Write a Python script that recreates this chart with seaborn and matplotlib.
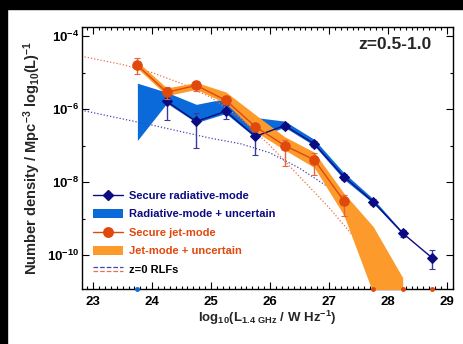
import numpy as np
import matplotlib
matplotlib.use("Agg")
import matplotlib.pyplot as plt
import matplotlib.ticker as mtick
from matplotlib.lines import Line2D
from matplotlib.patches import Patch, Rectangle
from matplotlib.legend_handler import HandlerBase
import seaborn as sns

# -- Data (log10 number density) -------------------------------
rad_x    = [24.25, 24.75, 25.25, 25.75, 26.25, 26.75, 27.25, 27.75, 28.25, 28.75]
rad_y    = [-5.79, -6.34, -6.06, -6.75, -6.45, -6.95, -7.85, -8.54, -9.40, -10.08]
rad_lo   = [-6.31, -7.06, -6.28, -7.27, -6.55, -7.03, -7.93, -8.62, -9.50, -10.38]
rad_hi   = [-5.65, -6.10, -5.88, -6.55, -6.37, -6.88, -7.78, -8.47, -9.32, -9.87]

rad_band_x  = [23.75, 24.25, 24.75, 25.25, 25.75, 26.25, 26.75, 27.25, 27.75, 28.25]
rad_band_hi = [-5.29, -5.54, -5.87, -5.71, -6.23, -6.33, -6.83, -7.74, -8.46, -9.37]
rad_band_lo = [-6.86, -5.84, -6.37, -6.12, -6.78, -6.50, -7.00, -7.92, -8.58, -9.42]

jet_x    = [23.75, 24.25, 24.75, 25.25, 25.75, 26.25, 26.75, 27.25]
jet_y    = [-4.80, -5.54, -5.35, -5.76, -6.48, -7.00, -7.39, -8.51]
jet_lo   = [-5.05, -5.72, -5.50, -5.87, -6.60, -7.55, -7.80, -8.93]
jet_hi   = [-4.61, -5.40, -5.22, -5.65, -6.38, -6.84, -7.19, -8.35]

jet_band_x  = [23.75, 24.25, 24.75, 25.25, 25.75, 26.25, 26.75, 27.25, 27.75, 28.25]
jet_band_hi = [-4.70, -5.42, -5.27, -5.53, -6.15, -6.76, -7.18, -8.30, -9.22, -10.62]
jet_band_lo = [-4.88, -5.63, -5.46, -5.84, -6.62, -7.12, -7.60, -8.90, -11.05, -11.05]

rlf_rad_x = [22.8, 23.5, 24.0, 24.5, 25.0, 25.5, 26.0, 26.5, 27.0, 27.25, 27.45]
rlf_rad_y = [-6.03, -6.27, -6.44, -6.62, -6.80, -6.95, -7.20, -7.62, -8.15, -8.50, -9.00]
rlf_jet_x = [22.8, 23.5, 24.0, 24.5, 25.0, 25.5, 26.0, 26.5, 27.0, 27.45]
rlf_jet_y = [-4.55, -4.78, -5.00, -5.30, -5.68, -6.25, -7.00, -7.85, -8.70, -9.55]

# empty bins drawn on the lower axis
rad_empty_x = [23.75]
jet_empty_x = [27.75, 28.25, 28.75]

XLIM = (22.81, 29.10)
YLIM = (10 ** -10.93, 10 ** -3.75)

NAVY   = "#0c0c82"
BLUE   = "#0b6ad9"
RED    = "#e0480c"
ORANGE = "#fd9a2c"
RLF_B  = "#4444b4"
RLF_R  = "#ef6e4c"
DOTS   = (0, (1, 1.6))

sns.set_theme(style="ticks")
plt.rcParams["font.family"] = ["Liberation Sans", "DejaVu Sans"]
plt.rcParams["font.weight"] = "bold"
plt.rcParams["mathtext.fontset"] = "custom"
plt.rcParams["mathtext.bf"] = "Liberation Sans:bold"
plt.rcParams["mathtext.rm"] = "Liberation Sans:bold"
plt.rcParams["mathtext.default"] = "bf"

p = lambda v: 10 ** np.asarray(v)

fig = plt.figure(figsize=(4.63, 3.44), dpi=100)
fig.patch.set_facecolor("white")
ax = fig.add_axes([0.177, 0.160, 0.801, 0.7615])

# bands
ax.fill_between(rad_band_x, p(rad_band_lo), p(rad_band_hi),
                color=BLUE, linewidth=0, zorder=2)
ax.fill_between(jet_band_x, p(jet_band_lo), p(jet_band_hi),
                color=ORANGE, linewidth=0, zorder=3)

# z=0 RLFs
sns.lineplot(x=rlf_rad_x, y=p(rlf_rad_y), ax=ax, color=RLF_B,
             linestyle=DOTS, linewidth=0.9, zorder=2.5)
sns.lineplot(x=rlf_jet_x, y=p(rlf_jet_y), ax=ax, color=RLF_R,
             linestyle=DOTS, linewidth=0.9, zorder=2.5)

# secure radiative-mode
ax.errorbar(rad_x, p(rad_y),
            yerr=[p(rad_y) - p(rad_lo), p(rad_hi) - p(rad_y)],
            fmt="none", ecolor="#3a3a9c", elinewidth=1.0, capsize=2,
            capthick=0.8, zorder=4)
sns.lineplot(x=rad_x, y=p(rad_y), ax=ax, color=NAVY, linewidth=1.0,
             marker="D", markersize=5.5, markeredgecolor=NAVY,
             markerfacecolor=NAVY, zorder=5)

# secure jet-mode
ax.errorbar(jet_x, p(jet_y),
            yerr=[p(jet_y) - p(jet_lo), p(jet_hi) - p(jet_y)],
            fmt="none", ecolor="#e8643c", elinewidth=1.0, capsize=2,
            capthick=0.8, zorder=6)
sns.lineplot(x=jet_x, y=p(jet_y), ax=ax, color=RED, linewidth=1.0,
             marker="o", markersize=6.8, markeredgecolor=RED,
             markerfacecolor=RED, zorder=7)

# empty bins on the floor
ax.plot(rad_empty_x, [YLIM[0]] * len(rad_empty_x), "o", color=BLUE,
        markersize=2.5, clip_on=False, zorder=8)
ax.plot(jet_empty_x, [YLIM[0]] * len(jet_empty_x), "o", color=RED,
        markersize=2.5, clip_on=False, zorder=8)

ax.set_yscale("log")
ax.set_xlim(*XLIM)
ax.set_ylim(*YLIM)

ax.xaxis.set_major_locator(mtick.MultipleLocator(1))
ax.xaxis.set_minor_locator(mtick.MultipleLocator(0.1))
ax.yaxis.set_major_locator(mtick.FixedLocator([1e-4, 1e-6, 1e-8, 1e-10]))
ax.yaxis.set_minor_locator(mtick.FixedLocator([1e-5, 1e-7, 1e-9, 1e-11]))
ax.yaxis.set_major_formatter(
    mtick.FuncFormatter(lambda v, _: r"$10^{%d}$" % round(np.log10(v))))
ax.yaxis.set_minor_formatter(mtick.NullFormatter())
ax.xaxis.set_major_formatter(mtick.FuncFormatter(lambda v, _: f"{v:.0f}"))

ax.tick_params(which="both", direction="in", top=True, right=True,
               colors="black", width=0.8, labelsize=9.5)
ax.tick_params(which="major", length=5)
ax.tick_params(which="minor", length=2.5)
ax.tick_params(axis="y", pad=2)
ax.tick_params(axis="x", pad=5)
for s in ax.spines.values():
    s.set_color("black")
    s.set_linewidth(1.0)

ax.set_xlabel(r"log$_{10}$(L$_{1.4\ GHz}$ / W Hz$^{-1}$)",
              fontsize=9.5, fontweight="bold", labelpad=1)
ax.set_ylabel(r"Number density / Mpc$^{-3}$ log$_{10}$(L)$^{-1}$",
              fontsize=10.5, fontweight="bold", labelpad=3)

ax.text(0.943, 0.933, "z=0.5-1.0", transform=ax.transAxes,
        ha="right", va="center", fontsize=12.5, fontweight="bold")


# legend ------------------------------------------------------
class HandlerTwoLines(HandlerBase):
    def create_artists(self, legend, orig_handle, xdescent, ydescent,
                       width, height, fontsize, trans):
        out = []
        for h, frac in zip(orig_handle, (0.72, 0.28)):
            y = height * frac - ydescent
            out.append(Line2D([-xdescent, width - xdescent], [y, y],
                              color=h.get_color(), linestyle=h.get_linestyle(),
                              linewidth=h.get_linewidth(), transform=trans))
        return out


h_rad = Line2D([], [], color=NAVY, marker="D", markersize=5.5, linewidth=1.0)
h_radb = Patch(facecolor=BLUE, edgecolor="none")
h_jet = Line2D([], [], color=RED, marker="o", markersize=6.8, linewidth=1.0)
h_jetb = Patch(facecolor=ORANGE, edgecolor="none")
h_rlf = (Line2D([], [], color=RLF_B, linestyle=DOTS, linewidth=0.9),
         Line2D([], [], color=RLF_R, linestyle=DOTS, linewidth=0.9))

leg = ax.legend([h_rad, h_radb, h_jet, h_jetb, h_rlf],
                ["Secure radiative-mode", "Radiative-mode + uncertain",
                 "Secure jet-mode", "Jet-mode + uncertain", "z=0 RLFs"],
                handler_map={tuple: HandlerTwoLines()},
                loc="upper left", bbox_to_anchor=(0.03, 0.376),
                frameon=False, fontsize=8, handlelength=2.7,
                handleheight=0.9, handletextpad=0.55, labelspacing=0.72,
                borderpad=0, borderaxespad=0)
for t, c in zip(leg.get_texts(), [NAVY, NAVY, RED, RED, "black"]):
    t.set_color(c)
    t.set_fontweight("bold")

# black frame strips of the screenshot
fig.patches.append(Rectangle((0, 0), 7 / 463, 1, transform=fig.transFigure,
                             color="black", zorder=0))
fig.patches.append(Rectangle((0, 1 - 9 / 344), 1, 9 / 344,
                             transform=fig.transFigure, color="black", zorder=0))

fig.savefig("out.png", dpi=100)
